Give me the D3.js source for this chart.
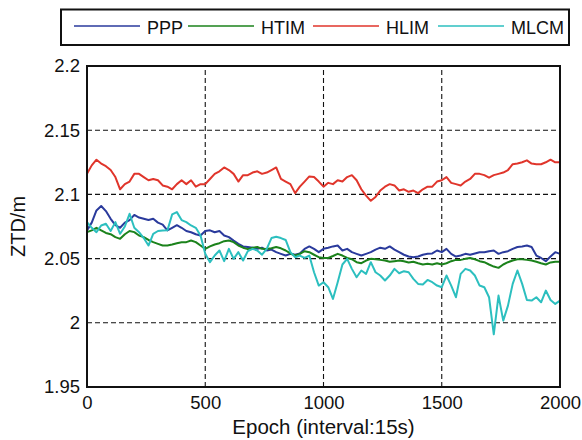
<!DOCTYPE html>
<html>
<head>
<meta charset="utf-8">
<script src="https://cdn.jsdelivr.net/npm/d3@7"></script>
<style>
  body { margin: 0; background: #fff; }
  text { font-family: "Liberation Sans", Arial, Helvetica, sans-serif; fill: #111; }
</style>
</head>
<body>
<svg id="chart" width="582" height="440"></svg>
<script>
// one sample every 20 epochs
var epochStep = 20;

var seriesNames = ["PPP", "HTIM", "HLIM", "MLCM"];
var seriesColors = ["#2a3a9c", "#1b821b", "#e0352b", "#2cbfbf"];

var ppp = [2.072, 2.078, 2.0875, 2.091, 2.087, 2.081, 2.076, 2.074, 2.078, 2.080, 2.084, 2.082, 2.081,
  2.080, 2.081, 2.078, 2.0765, 2.072, 2.074, 2.076, 2.074, 2.0715, 2.0705, 2.069, 2.068, 2.0715,
  2.072, 2.0705, 2.0715, 2.068, 2.0667, 2.064, 2.0615, 2.0595, 2.059, 2.0585, 2.0576, 2.0585, 2.0563,
  2.057, 2.055, 2.0537, 2.0524, 2.0537, 2.053, 2.054, 2.0576, 2.0595, 2.0576, 2.055, 2.0576,
  2.0585, 2.0595, 2.0602, 2.0563, 2.0576, 2.055, 2.0537, 2.0524, 2.0537, 2.055, 2.057, 2.0585,
  2.0576, 2.0595, 2.057, 2.055, 2.053, 2.0516, 2.0511, 2.0516, 2.053, 2.0537, 2.054, 2.0563,
  2.055, 2.0576, 2.0537, 2.0516, 2.0524, 2.0537, 2.053, 2.054, 2.055, 2.055, 2.0558, 2.0563, 2.0537,
  2.055, 2.0558, 2.0576, 2.059, 2.0595, 2.0602, 2.059, 2.0524, 2.0505, 2.048, 2.0516, 2.055, 2.0537];

var htim = [2.0706, 2.072, 2.074, 2.072, 2.070, 2.069, 2.0667, 2.0654, 2.069, 2.0715, 2.0706, 2.068, 2.0667,
  2.0645, 2.0628, 2.0615, 2.0602, 2.0602, 2.061, 2.062, 2.0628, 2.0628, 2.0641, 2.0628, 2.0602, 2.0576,
  2.0595, 2.061, 2.062, 2.0636, 2.0641, 2.0628, 2.0602, 2.0585, 2.0574, 2.0585, 2.059, 2.0576, 2.0574,
  2.058, 2.059, 2.058, 2.0563, 2.054, 2.0524, 2.0537, 2.0558, 2.055, 2.053, 2.0511, 2.0505,
  2.0505, 2.052, 2.0537, 2.0524, 2.0505, 2.0495, 2.0472, 2.0464, 2.0485, 2.0498, 2.0495, 2.049,
  2.0485, 2.0475, 2.048, 2.0485, 2.048, 2.047, 2.0475, 2.0464, 2.0454, 2.0459, 2.0454, 2.0464,
  2.0454, 2.0464, 2.048, 2.049, 2.049, 2.0498, 2.0505, 2.0495, 2.048, 2.0472, 2.0454, 2.0438, 2.0428,
  2.0454, 2.0472, 2.0485, 2.0495, 2.0495, 2.049, 2.0485, 2.0475, 2.0464, 2.0454, 2.047, 2.0475, 2.0475];

var hlim = [2.116, 2.1226, 2.127, 2.124, 2.122, 2.119, 2.1135, 2.104, 2.108, 2.110, 2.116, 2.116, 2.1135,
  2.111, 2.112, 2.111, 2.107, 2.106, 2.104, 2.108, 2.111, 2.108, 2.111, 2.106, 2.108, 2.108,
  2.112, 2.116, 2.118, 2.121, 2.119, 2.116, 2.110, 2.115, 2.115, 2.117, 2.118, 2.116, 2.117,
  2.119, 2.121, 2.112, 2.110, 2.108, 2.101, 2.106, 2.110, 2.114, 2.1135, 2.110, 2.106,
  2.109, 2.108, 2.111, 2.110, 2.1135, 2.115, 2.111, 2.104, 2.099, 2.095, 2.098, 2.103,
  2.106, 2.108, 2.107, 2.103, 2.104, 2.102, 2.103, 2.101, 2.104, 2.106, 2.106, 2.110,
  2.111, 2.1135, 2.109, 2.108, 2.107, 2.110, 2.112, 2.116, 2.116, 2.115, 2.113, 2.115, 2.116,
  2.117, 2.119, 2.1235, 2.124, 2.125, 2.1265, 2.124, 2.1235, 2.1235, 2.125, 2.127, 2.125, 2.125];

var mlcm = [2.0784, 2.074, 2.0706, 2.0758, 2.0771, 2.0715, 2.0784, 2.0693, 2.075, 2.0849, 2.074, 2.0706, 2.066,
  2.0602, 2.0693, 2.0715, 2.0719, 2.072, 2.0844, 2.0862, 2.080, 2.0784, 2.0758, 2.074, 2.068, 2.0537,
  2.0472, 2.0524, 2.0563, 2.048, 2.0576, 2.0498, 2.055, 2.0485, 2.0558, 2.0576, 2.0563, 2.053, 2.0576,
  2.066, 2.067, 2.066, 2.0645, 2.055, 2.0511, 2.0524, 2.0505, 2.0524, 2.0394, 2.029, 2.0316,
  2.0277, 2.0186, 2.0316, 2.0454, 2.0498, 2.042, 2.0355, 2.0407, 2.0381, 2.0472, 2.0394, 2.0368,
  2.0329, 2.0368, 2.042, 2.0386, 2.0402, 2.0394, 2.0342, 2.0303, 2.0298, 2.0334, 2.0316, 2.029,
  2.0277, 2.0368, 2.029, 2.0199, 2.0381, 2.042, 2.0407, 2.0368, 2.029, 2.0277, 2.0199, 1.991, 2.0212,
  2.0017, 2.0134, 2.0303, 2.0407, 2.0303, 2.0178, 2.0173, 2.0199, 2.016, 2.0251, 2.0178, 2.0147, 2.0173];

var xTicks = [0, 500, 1000, 1500, 2000];
var yTicks = [1.95, 2, 2.05, 2.1, 2.15, 2.2];

var margin = {left: 87, right: 22, top: 66, bottom: 53};

var svg = d3.select("#chart");
var width = +svg.attr("width"), height = +svg.attr("height");

var x = d3.scaleLinear().domain([0, 2000]).range([margin.left, width - margin.right]);
var y = d3.scaleLinear().domain([1.95, 2.2]).range([height - margin.bottom, margin.top]);

// dashed grid
var grid = svg.append("g");
grid.selectAll("line.gx")
  .data(xTicks.slice(1, -1))
  .enter().append("line")
  .attr("x1", function(d) { return x(d); })
  .attr("x2", function(d) { return x(d); })
  .attr("y1", y(1.95)).attr("y2", y(2.2))
  .attr("stroke", "#111").attr("stroke-width", 1.1).attr("stroke-dasharray", "5,3");
grid.selectAll("line.gy")
  .data(yTicks.slice(1, -1))
  .enter().append("line")
  .attr("y1", function(d) { return y(d); })
  .attr("y2", function(d) { return y(d); })
  .attr("x1", x(0)).attr("x2", x(2000))
  .attr("stroke", "#111").attr("stroke-width", 1.1).attr("stroke-dasharray", "5,3");

var line = d3.line()
  .x(function(d, i) { return x(i * epochStep); })
  .y(function(d) { return y(d); });

var allSeries = [ppp, htim, hlim, mlcm];
svg.append("g").selectAll("path")
  .data(allSeries)
  .enter().append("path")
  .attr("d", line)
  .attr("fill", "none")
  .attr("stroke", function(d, i) { return seriesColors[i]; })
  .attr("stroke-width", 2)
  .attr("stroke-linejoin", "round");

// frame
svg.append("rect")
  .attr("x", x(0)).attr("y", y(2.2))
  .attr("width", x(2000) - x(0)).attr("height", y(1.95) - y(2.2))
  .attr("fill", "none").attr("stroke", "#111").attr("stroke-width", 2);

// axes, only the labels are kept
var xAxis = svg.append("g")
  .attr("transform", "translate(0," + (height - margin.bottom) + ")")
  .call(d3.axisBottom(x).tickValues(xTicks).tickSize(0).tickPadding(9).tickFormat(d3.format("d")));
var yAxis = svg.append("g")
  .attr("transform", "translate(" + margin.left + ",0)")
  .call(d3.axisLeft(y).tickValues(yTicks).tickSize(0).tickPadding(7).tickFormat(function(d) { return String(+d.toFixed(2)); }));
xAxis.select(".domain").remove();
yAxis.select(".domain").remove();
svg.selectAll(".tick text").attr("font-size", 18.5).attr("font-family", null);

svg.append("text")
  .attr("x", (x(0) + x(2000)) / 2).attr("y", 434)
  .attr("text-anchor", "middle").attr("font-size", 20.5)
  .text("Epoch (interval:15s)");

svg.append("text")
  .attr("transform", "translate(25," + ((y(1.95) + y(2.2)) / 2) + ") rotate(-90)")
  .attr("text-anchor", "middle").attr("font-size", 20)
  .text("ZTD/m");

// legend
var legend = svg.append("g");
legend.append("rect")
  .attr("x", 61).attr("y", 9.5).attr("width", 508).attr("height", 35.5)
  .attr("fill", "#fff").attr("stroke", "#111").attr("stroke-width", 2);
var legendX = [74, 188, 313, 438];
var item = legend.selectAll("g.item")
  .data(seriesNames)
  .enter().append("g")
  .attr("transform", function(d, i) { return "translate(" + legendX[i] + ",26)"; });
item.append("line")
  .attr("x1", 0).attr("x2", 66).attr("y1", 0).attr("y2", 0)
  .attr("stroke", function(d, i) { return seriesColors[i]; })
  .attr("stroke-width", 1.5);
item.append("text")
  .attr("x", 73).attr("y", 8)
  .attr("font-size", 18)
  .text(function(d) { return d; });
</script>
</body>
</html>
